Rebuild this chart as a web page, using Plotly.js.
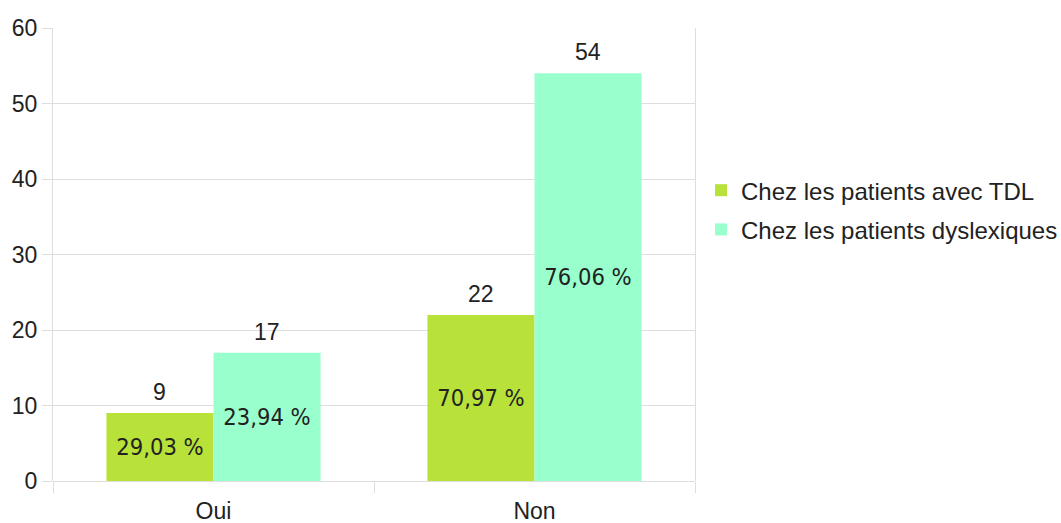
<!DOCTYPE html>
<html>
<head>
<meta charset="utf-8">
<script src="https://cdn.plot.ly/plotly-3.0.1.min.js"></script>
<style>
  html, body { margin: 0; padding: 0; background: #fff; }
  #chart { width: 1061px; height: 523px; }
</style>
</head>
<body>
<div id="chart"></div>
<script>
// Réponses : effectifs et pourcentages par groupe de patients
const categories = ["Oui", "Non"];
const seriesNames = ["Chez les patients avec TDL", "Chez les patients dyslexiques"];
const tdlCounts = [9, 22];
const dysCounts = [17, 54];
const tdlPercents = ["29,03 %", "70,97 %"];
const dysPercents = ["23,94 %", "76,06 %"];
const seriesColors = ["#b8e13a", "#99ffcc"];

const pctFont = { family: "DejaVu Sans Condensed, DejaVu Sans, sans-serif", size: 23.5, color: "#222" };
const labelFont = { family: "Liberation Sans, Arial, sans-serif", size: 23, color: "#222" };
const legendFont = { family: "Liberation Sans, Arial, sans-serif", size: 24, color: "#222" };
const gridColor = "#dedede";

function barTrace(name, values, percents, color, group) {
  return {
    type: "bar",
    name: name,
    legendgroup: group,
    x: categories,
    y: values,
    text: percents,
    textposition: "inside",
    insidetextanchor: "middle",
    textangle: 0,
    insidetextfont: pctFont,
    marker: { color: color, line: { width: 0 } },
    hoverinfo: "x+y+name"
  };
}

const traces = [
  barTrace(seriesNames[0], tdlCounts, tdlPercents, seriesColors[0], "tdl"),
  barTrace(seriesNames[1], dysCounts, dysPercents, seriesColors[1], "dys")
];

// Effectifs au-dessus des barres, décalés sur la moitié gauche / droite du groupe
const plotWidth = 1061 - 53 - 366;
const catWidth = plotWidth / categories.length;
const barWidth = catWidth * (1 - 0.333) / 2;
const annotations = [];
[tdlCounts, dysCounts].forEach((vals, s) => {
  vals.forEach((v, i) => {
    annotations.push({
      x: categories[i], y: v, xref: "x", yref: "y",
      text: String(v), showarrow: false,
      yanchor: "bottom", yshift: 6,
      xshift: (s === 0 ? -1 : 1) * barWidth / 2,
      font: labelFont
    });
  });
});

const layout = {
  width: 1061, height: 523,
  margin: { l: 53, r: 366, t: 28, b: 42, autoexpand: false },
  paper_bgcolor: "#fff", plot_bgcolor: "#fff",
  barmode: "group",
  bargap: 0.333,
  bargroupgap: 0,
  showlegend: true,
  legend: {
    x: 1.0094, y: 0.598, xanchor: "left", yanchor: "middle",
    font: legendFont, tracegroupgap: 5, itemwidth: 30,
    bgcolor: "rgba(0,0,0,0)"
  },
  xaxis: {
    type: "category",
    tickson: "boundaries",
    ticks: "outside", ticklen: 11, tickcolor: gridColor,
    ticklabelstandoff: 14,
    showgrid: false,
    showline: false, zeroline: false,
    tickfont: labelFont
  },
  yaxis: {
    range: [0, 60], dtick: 10,
    ticks: "outside", ticklen: 10, tickcolor: gridColor,
    showgrid: true, gridcolor: gridColor, gridwidth: 1,
    showline: true, mirror: true, linecolor: gridColor, linewidth: 1,
    zeroline: true, zerolinecolor: gridColor, zerolinewidth: 1,
    tickfont: labelFont
  },
  annotations: annotations
};

Plotly.newPlot("chart", traces, layout, { displayModeBar: false, staticPlot: true });
</script>
</body>
</html>
